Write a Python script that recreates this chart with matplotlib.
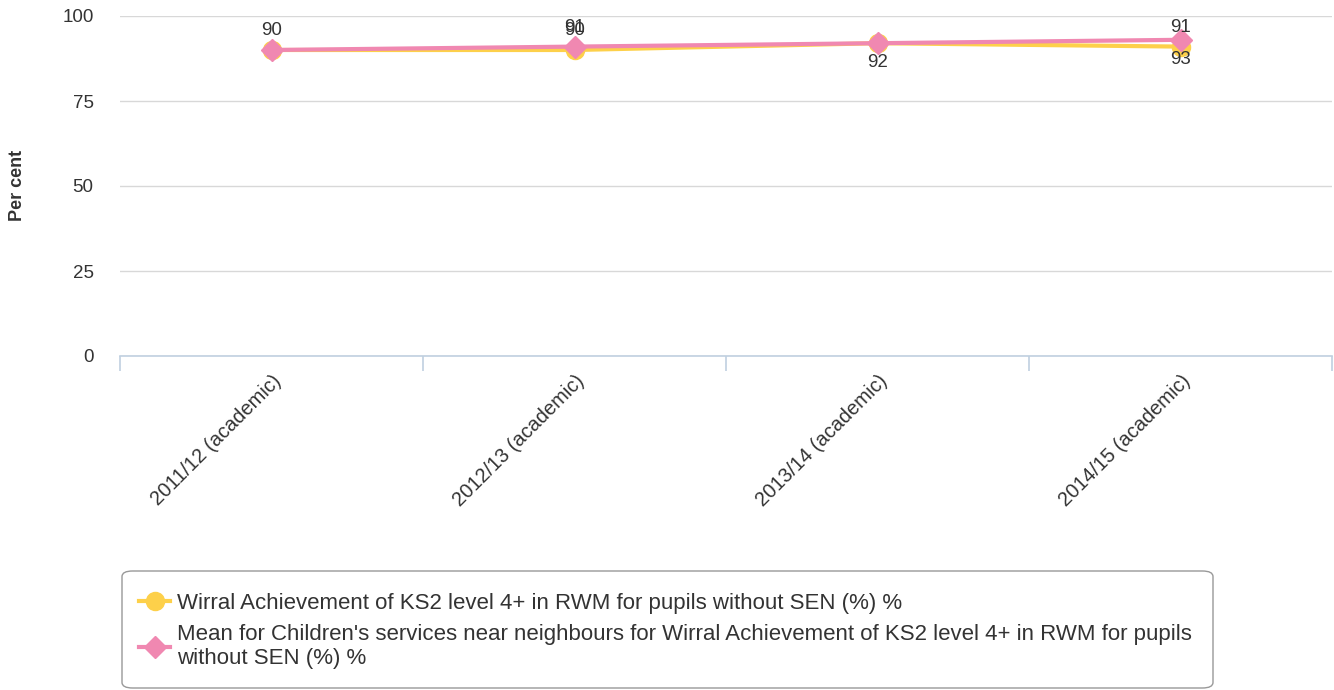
from matplotlib import pyplot as plt
from matplotlib.lines import Line2D
from matplotlib.patches import FancyBboxPatch
import numpy as np

plt.rcParams['font.family'] = ['Liberation Sans', 'DejaVu Sans']

# data
years = ["2011/12 (academic)", "2012/13 (academic)",
         "2013/14 (academic)", "2014/15 (academic)"]
wirral = [90, 90, 92, 91]
neighbours = [90, 91, 92, 93]

# label text shown next to each point (as in the original; None = hidden)
wirral_labels = ["90", "90", None, "91"]
neighbour_labels = [None, "91", "92", "93"]
# label placement: +1 above the point, -1 below
wirral_side = [1, 1, 1, 1]
neighbour_side = [1, 1, -1, -1]

label_names = ["Wirral Achievement of KS2 level 4+ in RWM for pupils without SEN (%) %",
               "Mean for Children's services near neighbours for Wirral Achievement of KS2 level 4+ in RWM for pupils\nwithout SEN (%) %"]

yellow = "#fdd04a"
pink = "#f088b1"
text_col = "#333333"

W, H = 1334, 690
fig = plt.figure(figsize=(W / 100, H / 100), dpi=100)
ax = fig.add_axes([120/W, 1 - 356/H, 1212/W, 340/H])

x = np.arange(len(years))

ax.plot(x, wirral, color=yellow, lw=3, marker='o', ms=13, zorder=3)
ax.plot(x, neighbours, color=pink, lw=3, marker='D', ms=11, zorder=4)

for vals, labs, sides in [(wirral, wirral_labels, wirral_side),
                          (neighbours, neighbour_labels, neighbour_side)]:
    for i, (v, lab, s) in enumerate(zip(vals, labs, sides)):
        if lab is None:
            continue
        ax.annotate(lab, (i, v), xytext=(0, 14 * s), textcoords='offset points',
                    ha='center', va='center', fontsize=13.5, color=text_col, zorder=5)

ax.set_xlim(-0.5, len(years) - 0.5)
ax.set_ylim(0, 100)
ax.set_yticks([0, 25, 50, 75, 100])
ax.grid(axis='y', color='#d8d8d8', lw=1)
ax.set_axisbelow(True)

for side in ['top', 'right', 'left']:
    ax.spines[side].set_visible(False)
ax.spines['bottom'].set_color('#c0d0e0')
ax.spines['bottom'].set_linewidth(1.2)

ax.set_xticks(x)
ax.set_xticklabels(years, rotation=45, ha='right', rotation_mode='anchor',
                   fontsize=14.4, color=text_col)
ax.tick_params(axis='x', which='major', length=0, pad=11)
ax.set_xticks(np.arange(-0.5, len(years)), minor=True)
ax.tick_params(axis='x', which='minor', length=11, color='#c0d0e0', width=1.2)
ax.tick_params(axis='y', length=0, pad=19, labelsize=13.5, labelcolor=text_col)

fig.text(17/W, 1 - 185/H, "Per cent", rotation=90, ha='center', va='center',
         fontsize=13, fontweight='bold', color=text_col)

# legend box drawn on its own so it matches the original size
box = FancyBboxPatch((122/W, 2/H), 1091/W, 117/H, transform=fig.transFigure,
                     boxstyle="round,pad=0,rounding_size=0.008",
                     facecolor='white', edgecolor='#999999', lw=1)
fig.patches.append(box)

handles = [Line2D([], [], color=yellow, lw=3, marker='o', ms=13),
           Line2D([], [], color=pink, lw=3, marker='D', ms=11)]
leg = fig.legend(handles, label_names, loc='upper left',
                 bbox_to_anchor=(139/W, 1 - 593/H),
                 fontsize=16, frameon=False, handlelength=1.4, handletextpad=0.3,
                 labelspacing=0.45, borderpad=0, borderaxespad=0)
for t in leg.get_texts():
    t.set_color(text_col)

plt.savefig("out.png", dpi=100)
